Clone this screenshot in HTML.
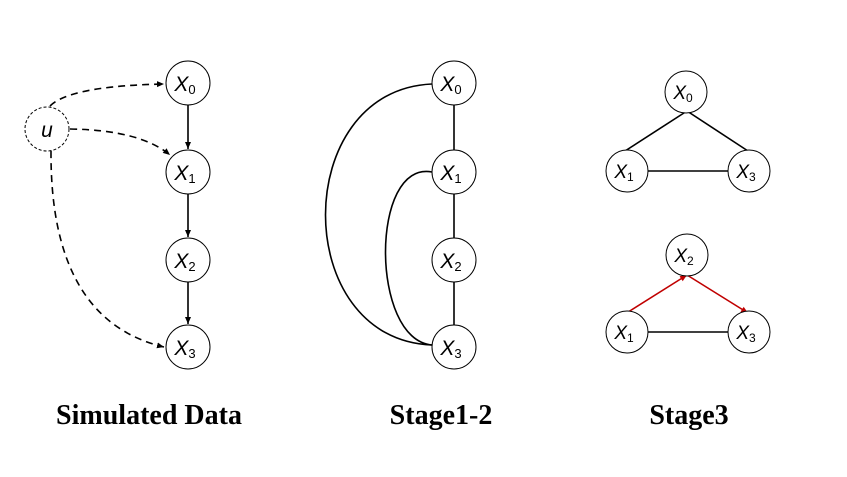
<!DOCTYPE html>
<html><head><style>body{margin:0;background:#fff}</style></head><body>
<svg width="847" height="472" xmlns="http://www.w3.org/2000/svg" font-family="Liberation Sans, sans-serif">
<defs>
<marker id="a" markerWidth="8" markerHeight="8" refX="7" refY="4" orient="auto" markerUnits="userSpaceOnUse"><path d="M0,1 L7,4 L0,7z" fill="#000"/></marker>
<marker id="r" markerWidth="8" markerHeight="8" refX="7" refY="4" orient="auto" markerUnits="userSpaceOnUse"><path d="M0,1 L7,4 L0,7z" fill="#c00000"/></marker>
</defs>
<g fill="none" stroke="#000" stroke-width="1.6">
<line x1="188" y1="105" x2="188" y2="149" marker-end="url(#a)"/>
<line x1="188" y1="194" x2="188" y2="237" marker-end="url(#a)"/>
<line x1="188" y1="282" x2="188" y2="324" marker-end="url(#a)"/>
<g stroke-dasharray="7,5">
<path d="M50,106 Q70,86 164,84" marker-end="url(#a)"/>
<path d="M70,129 Q140,130 170,155" marker-end="url(#a)"/>
<path d="M51,151 Q50,320 164,347" marker-end="url(#a)"/>
</g>
<line x1="454" y1="105" x2="454" y2="150"/>
<line x1="454" y1="194" x2="454" y2="238"/>
<line x1="454" y1="282" x2="454" y2="325"/>
<path d="M432,84 C290,90 290,340 432,345"/>
<path d="M432,172 C370,160 370,340 432,345"/>
<line x1="687" y1="111" x2="625" y2="151"/>
<line x1="687" y1="111" x2="748" y2="151"/>
<line x1="648" y1="171" x2="728" y2="171"/>
<line x1="648" y1="332" x2="728" y2="332"/>
<g stroke="#c00000"><line x1="625" y1="314" x2="687" y2="275" marker-end="url(#r)"/>
<line x1="687" y1="275" x2="748" y2="313" marker-end="url(#r)"/></g>
</g>
<g fill="#fff" stroke="#000" stroke-width="1">
<circle cx="188" cy="83" r="22"/><circle cx="188" cy="172" r="22"/><circle cx="188" cy="260" r="22"/><circle cx="188" cy="347" r="22"/>
<circle cx="47" cy="129" r="22" stroke-dasharray="3,2"/>
<circle cx="454" cy="83" r="22"/><circle cx="454" cy="172" r="22"/><circle cx="454" cy="260" r="22"/><circle cx="454" cy="347" r="22"/>
<circle cx="686" cy="92" r="21"/><circle cx="627" cy="171" r="21"/><circle cx="749" cy="171" r="21"/>
<circle cx="687" cy="255" r="21"/><circle cx="627" cy="332" r="21"/><circle cx="749" cy="332" r="21"/>
</g>
<g font-size="21" fill="#000" text-anchor="middle" font-style="italic">
<text x="47" y="137">u</text>
<text x="185" y="91">X<tspan font-size="13" font-style="normal" dy="3">0</tspan></text>
<text x="185" y="180">X<tspan font-size="13" font-style="normal" dy="3">1</tspan></text>
<text x="185" y="268">X<tspan font-size="13" font-style="normal" dy="3">2</tspan></text>
<text x="185" y="355">X<tspan font-size="13" font-style="normal" dy="3">3</tspan></text>
<text x="451" y="91">X<tspan font-size="13" font-style="normal" dy="3">0</tspan></text>
<text x="451" y="180">X<tspan font-size="13" font-style="normal" dy="3">1</tspan></text>
<text x="451" y="268">X<tspan font-size="13" font-style="normal" dy="3">2</tspan></text>
<text x="451" y="355">X<tspan font-size="13" font-style="normal" dy="3">3</tspan></text>
<text x="683" y="99" font-size="19">X<tspan font-size="12" font-style="normal" dy="3">0</tspan></text>
<text x="624" y="178" font-size="19">X<tspan font-size="12" font-style="normal" dy="3">1</tspan></text>
<text x="746" y="178" font-size="19">X<tspan font-size="12" font-style="normal" dy="3">3</tspan></text>
<text x="684" y="262" font-size="19">X<tspan font-size="12" font-style="normal" dy="3">2</tspan></text>
<text x="624" y="339" font-size="19">X<tspan font-size="12" font-style="normal" dy="3">1</tspan></text>
<text x="746" y="339" font-size="19">X<tspan font-size="12" font-style="normal" dy="3">3</tspan></text>
</g>
<g font-family="Liberation Serif, serif" font-weight="bold" font-size="28" text-anchor="middle">
<text x="149" y="424">Simulated Data</text>
<text x="441" y="424">Stage1-2</text>
<text x="689" y="424">Stage3</text>
</g>
</svg>
</body></html>
